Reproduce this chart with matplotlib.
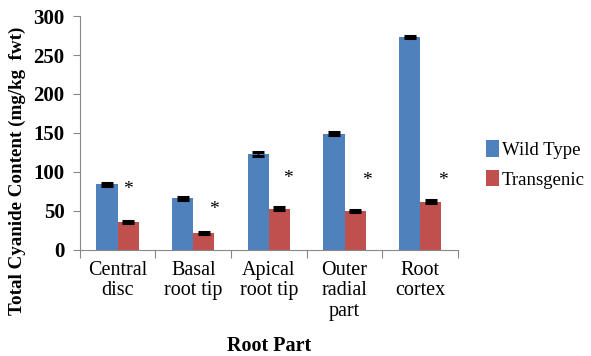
import matplotlib.pyplot as plt
import numpy as np

plt.rcParams['font.family'] = ['Liberation Serif', 'DejaVu Serif']

parts = ["Central\ndisc", "Basal\nroot tip", "Apical\nroot tip", "Outer\nradial\npart", "Root\ncortex"]
wild_type = [84, 66, 123, 149, 273]
transgenic = [36, 22, 53, 50, 62]
wild_err = [2, 1.5, 2, 2, 1.5]
trans_err = [1.5, 1.5, 1.5, 1.5, 1.5]
star_y = [78, 52, 91, 89, 89]
star_dx = [0.14, 0.27, 0.25, 0.3, 0.3]

fig = plt.figure(figsize=(5.91, 3.56), dpi=100)
ax = fig.add_axes([0.135, 0.298, 0.64, 0.657])

x = np.arange(len(parts))
w = 0.28
ekw = dict(ecolor='black', elinewidth=1, capsize=4, capthick=2.2)
ax.bar(x - w / 2, wild_type, w, color='#4F81BD', label='Wild Type', yerr=wild_err, error_kw=ekw)
ax.bar(x + w / 2, transgenic, w, color='#C0504D', label='Transgenic', yerr=trans_err, error_kw=ekw)

for i in range(len(parts)):
    ax.text(x[i] + star_dx[i], star_y[i], '*', ha='center', va='center', fontsize=14)

ax.set_xlim(-0.5, len(parts) - 0.5)
ax.set_ylim(0, 300)
ax.set_yticks(range(0, 301, 50))
ax.set_yticklabels([str(v) for v in range(0, 301, 50)], fontweight='bold', fontsize=15)
ax.set_xticks(np.arange(-0.5, len(parts), 1))
ax.set_xticklabels([])
ax.set_xticks(x, minor=True)
ax.set_xticklabels(parts, minor=True, fontsize=14.5, linespacing=1.1, va='top')
ax.tick_params(axis='x', which='minor', length=0, pad=8)
ax.tick_params(axis='x', which='major', length=6, color='#888888', direction='out')
ax.tick_params(axis='y', length=5, color='#888888', direction='out', pad=6)

for s in ['top', 'right']:
    ax.spines[s].set_visible(False)
ax.spines['left'].set_color('#888888')
ax.spines['bottom'].set_color('#888888')

fig.text(0.455, 0.027, 'Root Part', ha='center', va='center', fontsize=14.5, fontweight='bold')
fig.text(0.029, 0.52, 'Total Cyanide Content (mg/kg  fwt)', ha='center', va='center',
         rotation=90, fontsize=13.7, fontweight='bold')

ax.legend(loc='center left', bbox_to_anchor=(1.053, 0.365), frameon=False, fontsize=13.5,
          borderaxespad=0, handlelength=0.7, handleheight=0.95, handletextpad=0.15,
          labelspacing=0.6)

fig.savefig('out.png', dpi=100)
